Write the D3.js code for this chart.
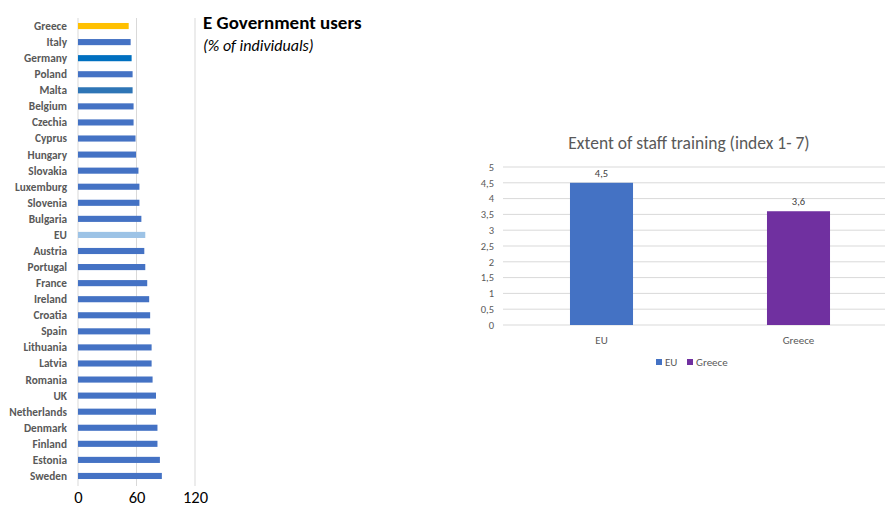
<!DOCTYPE html>
<html><head><meta charset="utf-8">
<script src="https://cdn.jsdelivr.net/npm/d3@7"></script>
<style>body{margin:0;background:#fff;}svg{display:block;font-family:Calibri,Carlito,Lato,"Liberation Sans",sans-serif;}</style>
</head><body>
<svg id="c" width="885" height="506"></svg>
<script>
const countries = ["Greece","Italy","Germany","Poland","Malta","Belgium","Czechia","Cyprus","Hungary","Slovakia","Luxemburg","Slovenia","Bulgaria","EU","Austria","Portugal","France","Ireland","Croatia","Spain","Lithuania","Latvia","Romania","UK","Netherlands","Denmark","Finland","Estonia","Sweden"];
const egovValues = [52,54,55,56,56,57,57,59,59.5,62,63,63,65,69,68,69,71,73,74,74,75.5,75.5,76.5,80,80,81.5,81.5,84,86];
const egovTicks = [0,60,120];
const trainingCats = ["EU","Greece"];
const trainingValues = [4.5,3.6];
const trainingTicks = [0,0.5,1,1.5,2,2.5,3,3.5,4,4.5,5];

const svg = d3.select("#c");
const comma = v => String(v).replace(".", ",");

// ---- Left chart ----
const x = d3.scaleLinear().domain([0,120]).range([78,195]);
const y = d3.scaleBand().domain(countries).range([18,484]).paddingInner(0.62).paddingOuter(0.31);
const colorFor = c => c==="Greece" ? "#FFC000" : c==="Germany" ? "#0070C0" : c==="Malta" ? "#2E75B6" : c==="EU" ? "#9DC3E6" : "#4472C4";

const L = svg.append("g");
L.selectAll("line.grid").data(egovTicks).join("line")
  .attr("x1",d=>x(d)).attr("x2",d=>x(d)).attr("y1",18).attr("y2",486)
  .attr("stroke","#D9D9D9").attr("stroke-width",1);
L.selectAll("rect").data(countries).join("rect")
  .attr("x",x(0)).attr("y",d=>y(d)).attr("height",y.bandwidth())
  .attr("width",(d,i)=>x(egovValues[i])-x(0)).attr("fill",d=>colorFor(d));
L.selectAll("text.cat").data(countries).join("text")
  .attr("x",67).attr("y",d=>y(d)+y.bandwidth()/2).attr("dy","0.35em")
  .attr("text-anchor","end").attr("font-size",11.3).attr("font-weight","bold").attr("fill","#595959")
  .text(d=>d);
const xAxis = d3.axisBottom(x).tickValues(egovTicks).tickSize(0).tickPadding(0);
const gx = L.append("g").attr("transform","translate(0,491)").call(xAxis);
gx.select(".domain").remove();
gx.selectAll("text").attr("font-size",16.5).attr("fill","#000").attr("font-family","Calibri,Carlito,Lato,'Liberation Sans',sans-serif").attr("dy","0.71em");

svg.append("text").attr("x",203).attr("y",29).attr("font-size",19).attr("font-weight","bold").attr("fill","#000").text("E Government users");
svg.append("text").attr("x",203).attr("y",51).attr("font-size",16).attr("font-style","italic").attr("fill","#000").text("(% of individuals)");

// ---- Right chart ----
const R = svg.append("g");
const xb = d3.scaleBand().domain(trainingCats).range([503,897]).paddingInner(0.68).paddingOuter(0.34);
const yb = d3.scaleLinear().domain([0,5]).range([325,167]);
R.selectAll("line.g").data(trainingTicks).join("line")
  .attr("x1",503).attr("x2",885).attr("y1",d=>yb(d)).attr("y2",d=>yb(d))
  .attr("stroke","#D9D9D9").attr("stroke-width",1);
const yAxis = d3.axisLeft(yb).tickValues(trainingTicks).tickSize(0).tickPadding(0).tickFormat(comma);
const gy = R.append("g").attr("transform","translate(494,0)").call(yAxis);
gy.select(".domain").remove();
gy.selectAll("text").attr("font-size",10.5).attr("fill","#595959").attr("font-family","Calibri,Carlito,Lato,'Liberation Sans',sans-serif");
const barColors = ["#4472C4","#7030A0"];
R.selectAll("rect").data(trainingCats).join("rect")
  .attr("x",d=>xb(d)).attr("width",xb.bandwidth())
  .attr("y",(d,i)=>yb(trainingValues[i])).attr("height",(d,i)=>yb(0)-yb(trainingValues[i]))
  .attr("fill",(d,i)=>barColors[i]);
R.selectAll("text.v").data(trainingCats).join("text")
  .attr("x",d=>xb(d)+xb.bandwidth()/2).attr("y",(d,i)=>yb(trainingValues[i])-6)
  .attr("text-anchor","middle").attr("font-size",10.5).attr("fill","#404040")
  .text((d,i)=>comma(trainingValues[i]));
R.selectAll("text.c").data(trainingCats).join("text")
  .attr("x",d=>xb(d)+xb.bandwidth()/2).attr("y",344)
  .attr("text-anchor","middle").attr("font-size",11).attr("fill","#595959").text(d=>d);
R.append("text").attr("x",689).attr("y",149).attr("text-anchor","middle").attr("font-size",17.5).attr("fill","#595959")
  .text("Extent of staff training (index 1- 7)");
// legend
const legX = [656,687];
const lg = R.selectAll("g.leg").data(trainingCats).join("g").attr("transform",(d,i)=>`translate(${legX[i]},359)`);
lg.append("rect").attr("width",6).attr("height",6).attr("fill",(d,i)=>barColors[i]);
lg.append("text").attr("x",9).attr("y",3).attr("dy","0.35em").attr("font-size",11).attr("fill","#595959").text(d=>d);
</script>
</body></html>
